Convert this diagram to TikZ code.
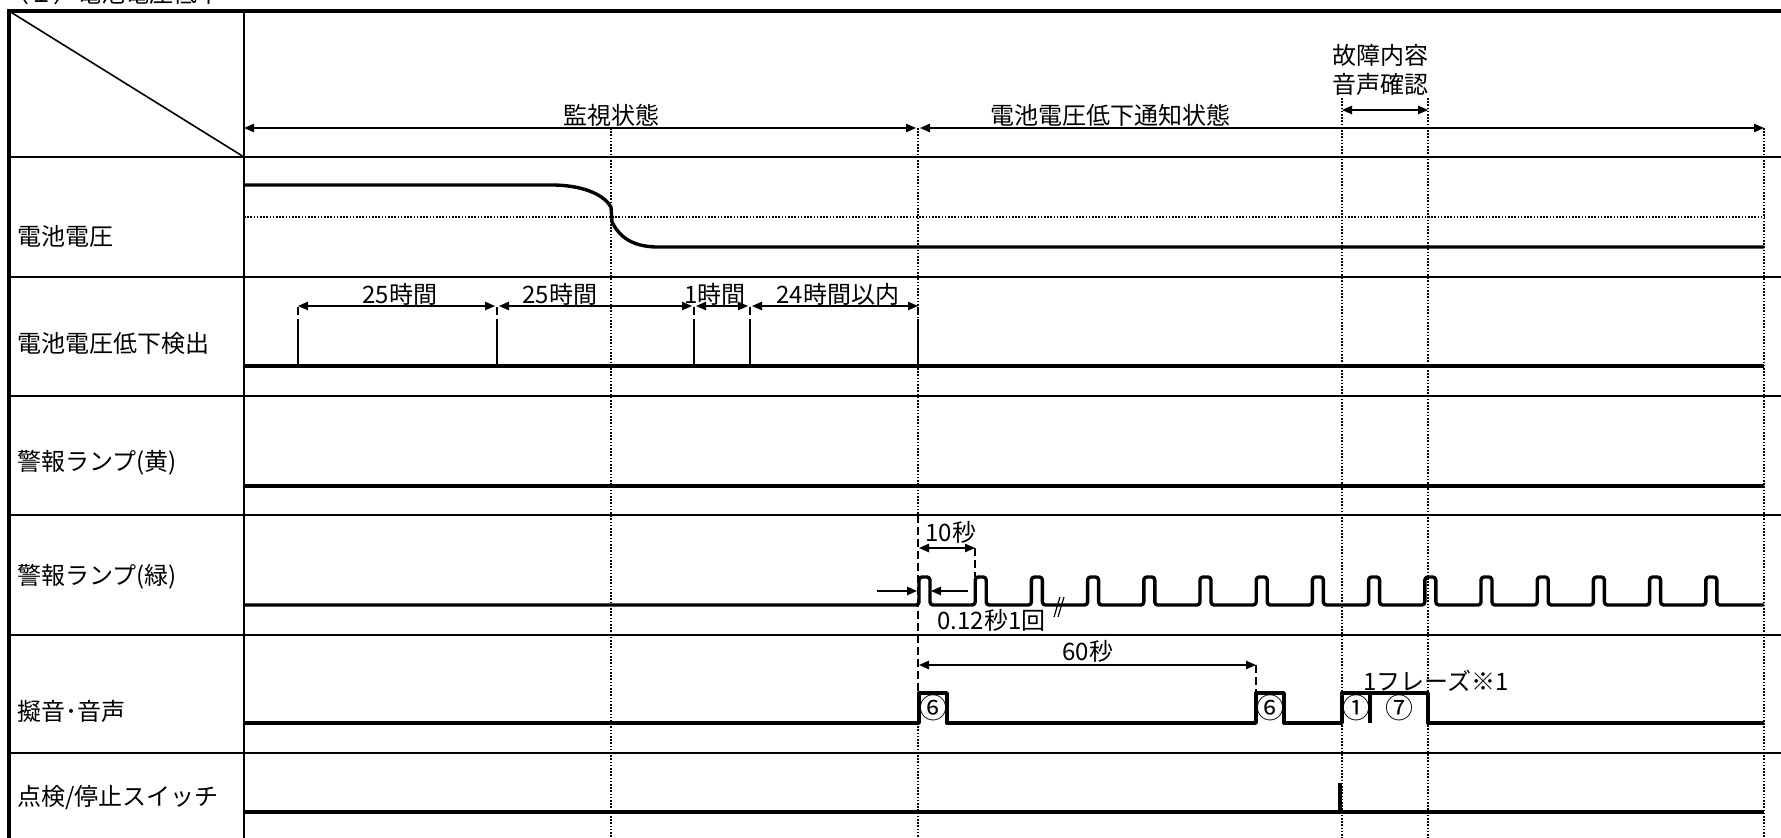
\documentclass[tikz,border=0pt]{standalone}
\usepackage{fontspec}
\setmainfont{Noto Sans CJK JP}
\usetikzlibrary{arrows.meta}
\tikzset{
	sigline/.style={line width=1.7pt, line join=round},
	gridline/.style={line width=1pt},
	outerline/.style={line width=1.6pt},
	guideline/.style={line width=0.7pt, dash pattern=on 0.8pt off 0.8pt},
	extline/.style={line width=0.7pt, dash pattern=on 4pt off 2pt},
	dimline/.style={line width=0.7pt, {Triangle[length=5pt,width=4.2pt]}-{Triangle[length=5pt,width=4.2pt]}},
	ptrline/.style={line width=0.7pt, -{Triangle[length=5pt,width=4.2pt]}},
	lbl/.style={inner sep=0pt, anchor=west, font=\fontsize{12pt}{14.5pt}\selectfont},
	num/.style={inner sep=0pt, font=\fontsize{14pt}{16pt}\selectfont},
}

\begin{document}
\begin{tikzpicture}[x=0.5pt, y=-0.5pt]
			%%%%% START %%%%%
			\useasboundingbox (0,0) rectangle (1781,838);
			
			\node[lbl, anchor=base west] (title) at (5,3) {（１）電池電圧低下};
			
			\draw[outerline] (1781,11) -- (9,11) -- (9,838);
			\draw[gridline] (244,11) -- (244,838);
			\foreach \y in {157,277,396,515,635,753}
				\draw[gridline] (9,\y) -- (1781,\y);
			\draw[line width=0.8pt] (9,11) -- (244,157);
			
			\node[lbl] (vbat) at (17,236) {電池電圧};
			\node[lbl] (vdet) at (17,343) {電池電圧低下検出};
			\node[lbl] (lampy) at (17,463) {警報ランプ(黄)};
			\node[lbl] (lampg) at (17,577) {警報ランプ(緑)};
			\node[lbl] (sound) at (17,711) {擬音･音声};
			\node[lbl] (switch) at (17,798) {点検/停止スイッチ};
			
			% time marks
			\draw[guideline] (611,128) -- (611,838);
			\draw[guideline] (918,128) -- (918,515) (918,723) -- (918,838);
			\draw[extline] (918,515) -- (918,723);
			\draw[guideline] (1342,98) -- (1342,838);
			\draw[guideline] (1428,98) -- (1428,838);
			\draw[guideline] (1764,128) -- (1764,838);
			\draw[guideline] (244,217) -- (1764,217);
			
			\coordinate (s0) at (244,128);
			\coordinate (s1) at (918,128);
			\coordinate (s2) at (1764,128);
			\draw[dimline, shorten >=1pt] (s0) -- (s1);
			\draw[dimline, shorten <=1pt] (s1) -- (s2);
			\node[lbl] (mon) at (563,115) {監視状態};
			\node[lbl] (notice) at (990,115) {電池電圧低下通知状態};
			
			\coordinate (f0) at (1342,110);
			\coordinate (f1) at (1428,110);
			\draw[dimline] (f0) -- (f1);
			\node[lbl, anchor=center, align=center] (fault) at (1380,70) {故障内容\\音声確認};
			
			\draw[sigline] (244,185) -- (555,185) .. controls (585,186) and (604,195) .. (611,207) -- (612,222) .. controls (620,238) and (633,246) .. (655,247) -- (1764,247);
			
			\draw[sigline] (244,366) -- (1764,366);
			\foreach \t in {298,497,694,750,918} {
				\draw[sigline, line width=1.3pt] (\t,366) -- (\t,327);
				\draw[extline] (\t,327) -- (\t,306);
			}
			\coordinate (h1) at (298,306);
			\coordinate (h2) at (497,306);
			\coordinate (h3) at (694,306);
			\coordinate (h4) at (750,306);
			\coordinate (h5) at (918,306);
			\draw[dimline, shorten >=1pt] (h1) -- (h2);
			\draw[dimline, shorten <=1pt, shorten >=1pt] (h2) -- (h3);
			\draw[dimline, shorten <=1pt, shorten >=1pt] (h3) -- (h4);
			\draw[dimline, shorten <=1pt] (h4) -- (h5);
			\node[lbl] (t1) at (362,294) {25時間};
			\node[lbl] (t2) at (522,294) {25時間};
			\node[lbl] (t3) at (684,294) {1時間};
			\node[lbl] (t4) at (776,294) {24時間以内};
			
			\draw[sigline] (244,486) -- (1764,486);
			
			\draw[sigline, rounded corners=1.5pt] (244,605) foreach \k in {0,...,14} { -- ({919+56.2*\k},605) -- ++(0,-28) -- ++(11,0) -- ++(0,28) } -- (1764,605);
			\draw[line width=0.6pt] (1054,617) -- (1060,597) (1058,617) -- (1064,597);
			\coordinate (g0) at (919,548);
			\coordinate (g1) at (975,548);
			\draw[dimline] (g0) -- (g1);
			\draw[extline] (g1) -- (975,577);
			\node[lbl] (ten) at (925,532) {10秒};
			\coordinate (w0) at (877,591);
			\coordinate (w1) at (917,591);
			\coordinate (w2) at (968,591);
			\coordinate (w3) at (931,591);
			\draw[ptrline] (w0) -- (w1);
			\draw[ptrline] (w2) -- (w3);
			\node[lbl] (width) at (937,620) {0.12秒1回};
			
			\draw[sigline] (244,723) -- (919,723) -- (919,693) -- (947,693) -- (947,723) -- (1256,723) -- (1256,693) -- (1284,693) -- (1284,723) -- (1342,723) -- (1342,693) -- (1428,693) -- (1428,723) -- (1764,723);
			\draw[sigline] (1370,693) -- (1370,723);
			\coordinate (m0) at (919,665);
			\coordinate (m1) at (1256,665);
			\draw[dimline] (m0) -- (m1);
			\draw[extline] (m1) -- (1256,693);
			\node[lbl] (sixty) at (1062,651) {60秒};
			\node[lbl] (phrase) at (1363,681) {1フレーズ※1};
			\node[num] (c6a) at (933,708) {⑥};
			\node[num] (c6b) at (1270,708) {⑥};
			\node[num] (c1) at (1356,708) {①};
			\node[num] (c7) at (1399,708) {⑦};
			
			\draw[sigline] (244,812) -- (1764,812);
			\draw[sigline] (1340,812) -- (1340,783);
			
			%%%%% END %%%%%
\end{tikzpicture}
\end{document}
